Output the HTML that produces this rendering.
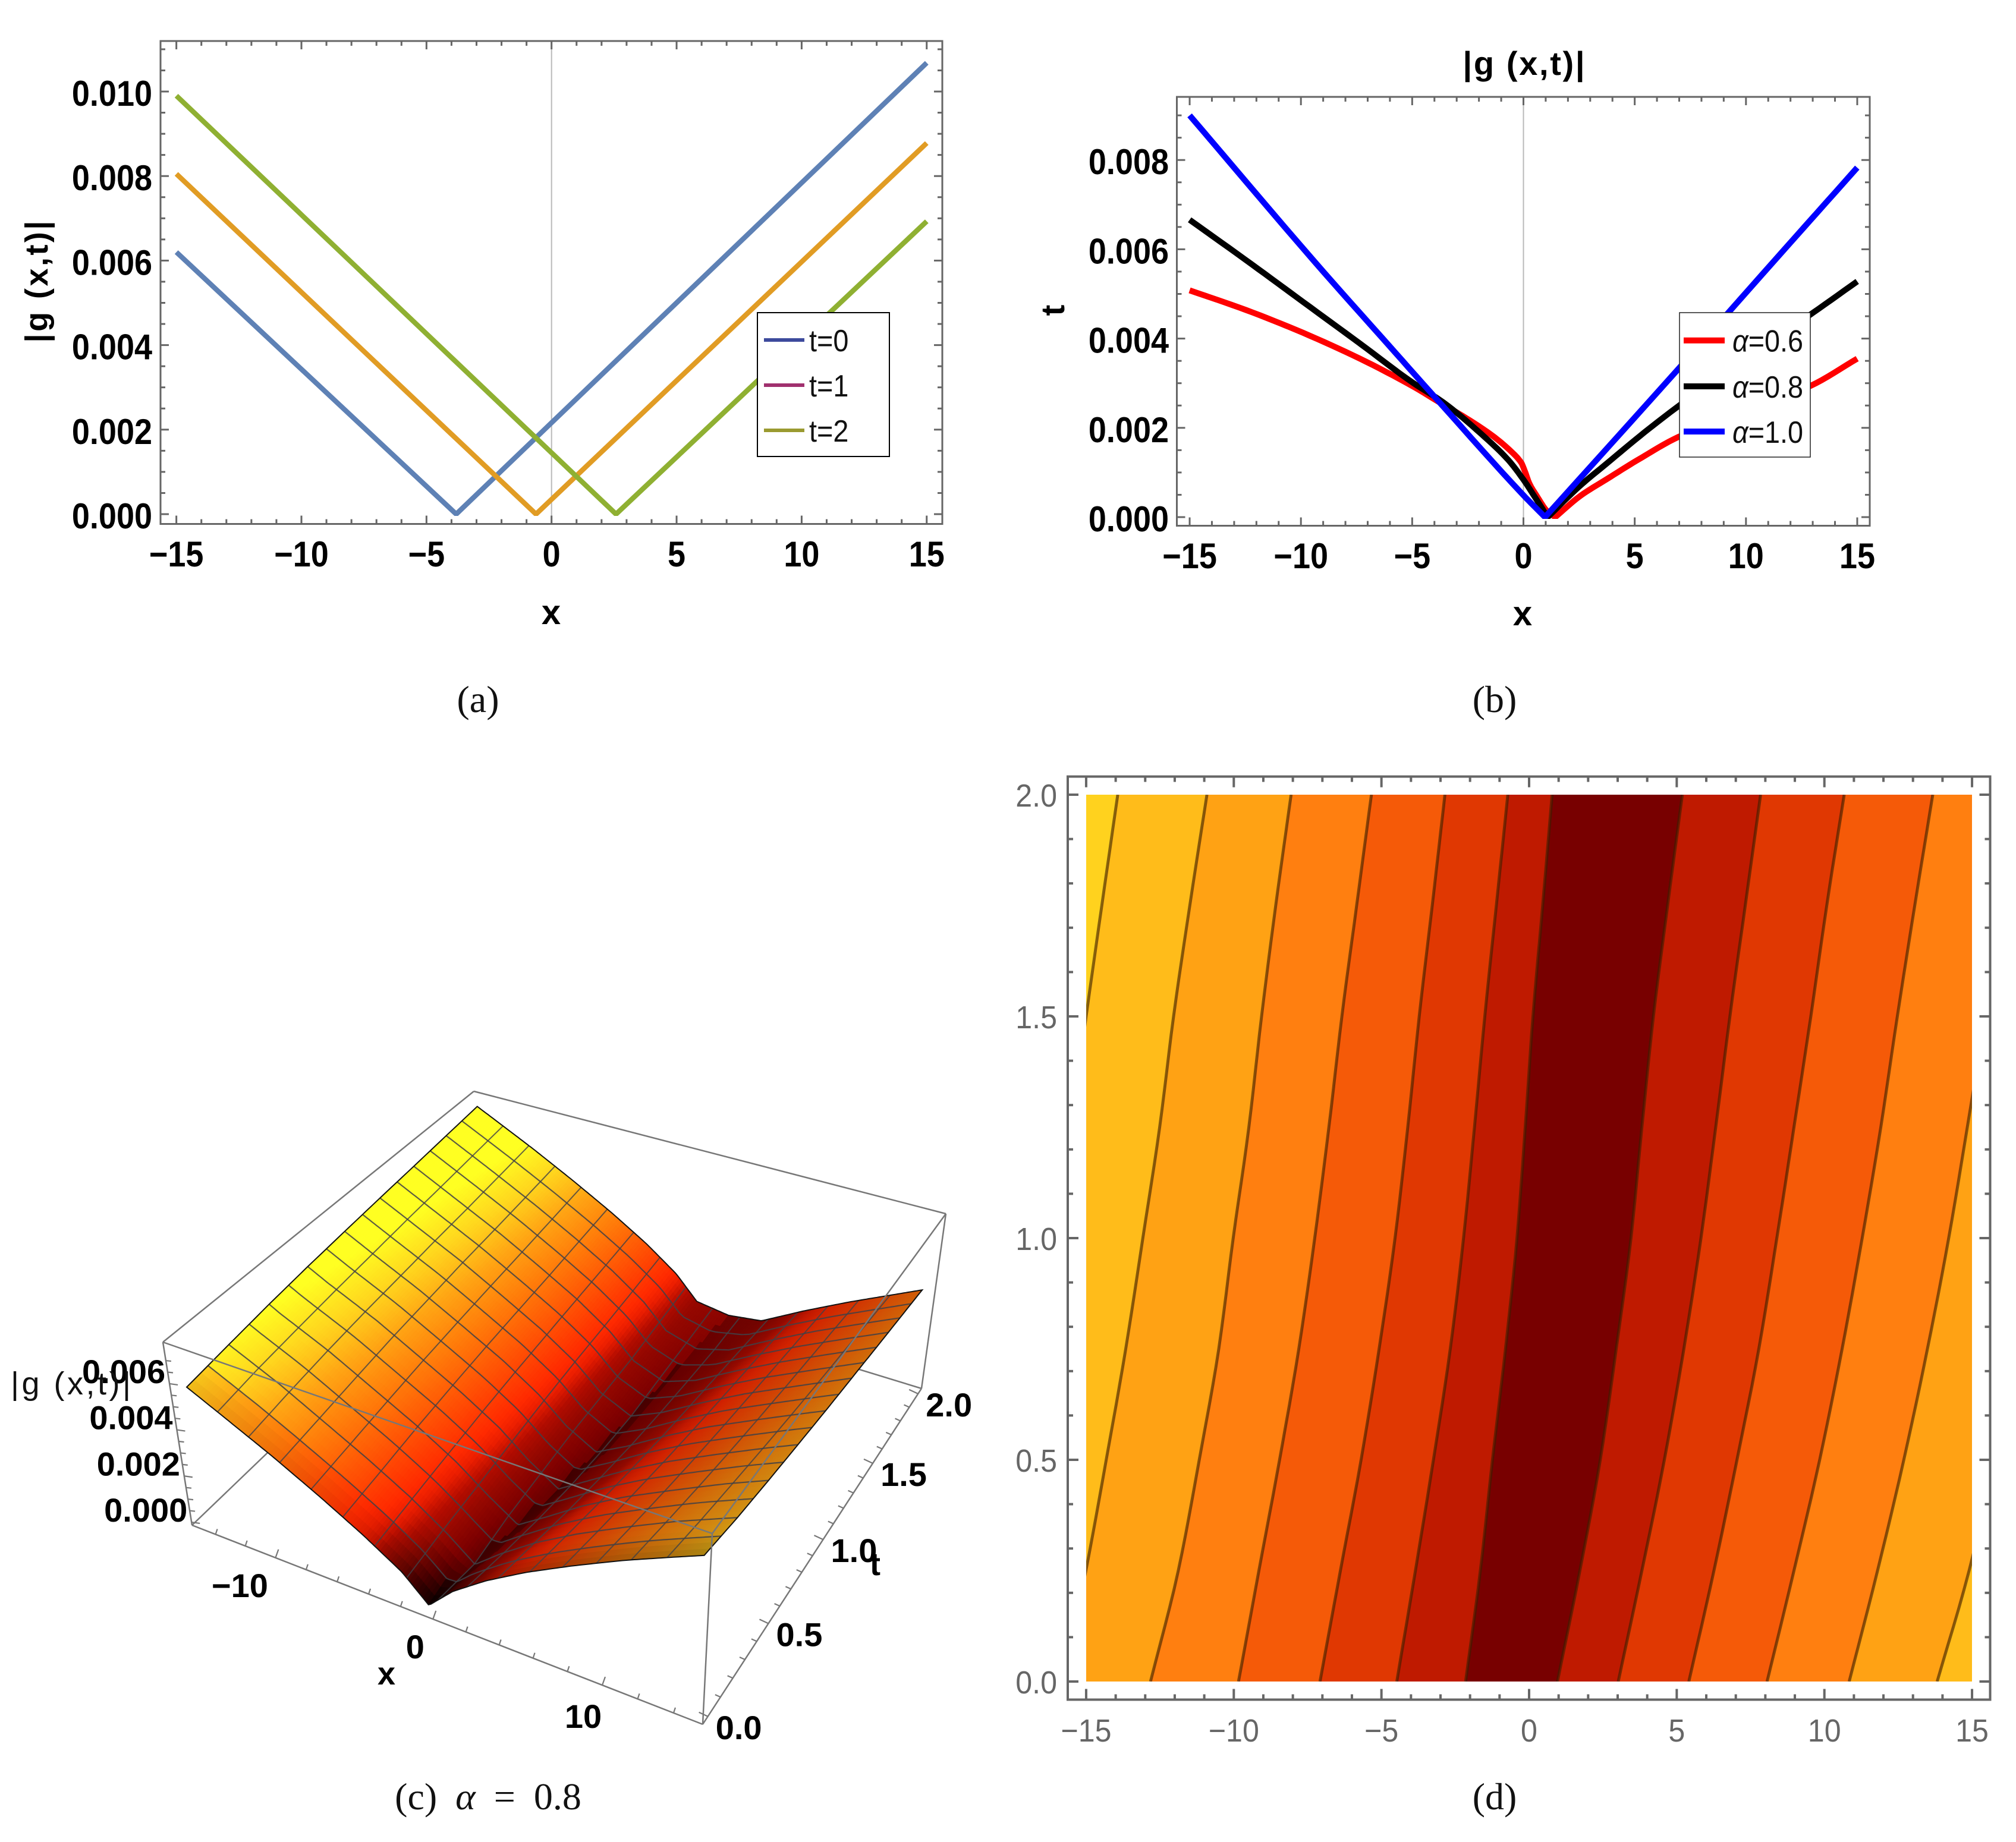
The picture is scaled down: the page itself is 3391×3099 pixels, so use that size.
<!DOCTYPE html>
<html lang="en">
<head>
<meta charset="utf-8">
<title>|g(x,t)| plots</title>
<style>
html,body{margin:0;padding:0;background:#fff;}
svg{display:block;}
text{font-family:"Liberation Sans",sans-serif;}
.cap{font-family:"Liberation Serif",serif;font-size:64px;fill:#111;text-anchor:middle;}
.bold{font-weight:bold;fill:#000;}
</style>
</head>
<body>
<svg id="fig" xmlns="http://www.w3.org/2000/svg" width="3391" height="3099" viewBox="0 0 3391 3099">
<rect x="0" y="0" width="3391" height="3099" fill="#fff"/>
<g id="panelA"></g>
<g id="panelB"></g>
<g id="panelC"></g>
<g id="panelD"></g>

<text class="bold" x="927" y="1050" font-size="58" text-anchor="middle">x</text>
<text class="bold" transform="translate(80 474) rotate(-90)" font-size="54" text-anchor="middle" textLength="205" lengthAdjust="spacing">|g (x,t)|</text>
<text class="bold" x="2563" y="126" font-size="56" text-anchor="middle" textLength="205" lengthAdjust="spacing">|g (x,t)|</text>
<text class="bold" x="2561" y="1052" font-size="58" text-anchor="middle">x</text>
<text class="bold" transform="translate(1790 522) rotate(-90)" font-size="56" text-anchor="middle">t</text>
<text x="119" y="2346" font-size="54" fill="#111" text-anchor="middle" textLength="202" lengthAdjust="spacing">|g (x,t)|</text>
<text class="bold" x="650" y="2834" font-size="54" text-anchor="middle">x</text>
<text class="bold" x="1472" y="2650" font-size="54" text-anchor="middle">t</text>

<text class="cap" x="804" y="1198">(a)</text>
<text class="cap" x="2514" y="1198">(b)</text>
<text class="cap" x="821" y="3044" style="word-spacing:15px" xml:space="preserve">(c) <tspan font-style="italic">α</tspan> = 0.8</text>
<text class="cap" x="2514" y="3044">(d)</text>
</svg>

<script>
/* ---------- Panel (a) data ---------- */
const aSeriesNames = ['t=0','t=1','t=2'];
const aX0 = [-15, -3.81, 15];
const aY0 = [0.0062, 0, 0.01068];
const aX1 = [-15, -0.62, 15];
const aY1 = [0.00805, 0, 0.00878];
const aX2 = [-15, 2.58, 15];
const aY2 = [0.0099, 0, 0.00693];
const xTickValues = [-15,-10,-5,0,5,10,15];
const xTickLabels = ['\u221215','\u221210','\u22125','0','5','10','15'];
const aYTickValues = [0,0.002,0.004,0.006,0.008,0.010];
const aYTickLabels = ['0.000','0.002','0.004','0.006','0.008','0.010'];

/* ---------- Panel (b) data ---------- */
const bSeriesNames = ['\u03b1=0.6','\u03b1=0.8','\u03b1=1.0'];
const bRedX = [-15,-12.47,-9.91,-7.35,-4.97,-3.77,-2.58,-1.38,-0.53,-0.1,0.07,0.27,0.58,1.09,1.43,2.54,3.74,5.1,6.98,12.9,15];
const bRedY = [0.00508,0.00464,0.00413,0.00355,0.00293,0.00257,0.00222,0.00182,0.00146,0.00122,0.00102,0.00075,0.00049,0.00012,0,0.00047,0.00085,0.00127,0.0018,0.00294,0.00355];
const bBlackX = [-15,-12.2,-9.9,-7.35,-4.97,-3.6,-1.89,-0.7,0,0.41,1.09,2.54,3.74,5.44,7,9,11,12.7,15];
const bBlackY = [0.00666,0.00566,0.00482,0.00389,0.00301,0.00257,0.00186,0.00129,0.00084,0.00053,0,0.0007,0.0012,0.0019,0.0025,0.00322,0.0039,0.00447,0.00528];
const bBlueX = [-15,-9.4,-6,-3.77,0,0.97,6.98,11.25,15];
const bBlueY = [0.0090,0.00573,0.00382,0.00257,0.00049,0,0.00333,0.00573,0.00783];
const bYTickValues = [0,0.002,0.004,0.006,0.008];
const bYTickLabels = ['0.000','0.002','0.004','0.006','0.008'];

/* ---------- Panel (d) data: x position of each contour at each t row ---------- */
const contourRows = [0,0.25,0.5,0.75,1,1.25,1.5,1.75,2];
const contourL1 = [-18,-17.5,-17,-16.5,-16,-15.5,-15.0,-14.47,-13.93];
const contourL2 = [-15.8,-15.01,-14.32,-13.66,-13.08,-12.51,-12.04,-11.49,-10.91];
const contourL3 = [-12.82,-11.88,-11.17,-10.51,-10.02,-9.49,-9.06,-8.58,-8.06];
const contourL4 = [-9.84,-9.15,-8.45,-7.80,-7.26,-6.78,-6.34,-5.84,-5.34];
const contourL5 = [-7.08,-6.39,-5.69,-5.08,-4.54,-4.11,-3.72,-3.28,-2.85];
const contourL6 = [-4.48,-3.85,-3.24,-2.67,-2.22,-1.85,-1.50,-1.11,-0.72];
const contourL7 = [-2.15,-1.65,-1.24,-0.80,-0.41,-0.13,0.13,0.46,0.78];
const contourR1 = [0.96,1.72,2.41,2.95,3.45,3.82,4.21,4.69,5.19];
const contourR2 = [3.02,3.82,4.58,5.24,5.82,6.32,6.80,7.32,7.84];
const contourR3 = [5.41,6.26,7.04,7.78,8.39,8.97,9.54,10.08,10.67];
const contourR4 = [8.06,8.97,9.84,10.60,11.28,11.91,12.47,13.06,13.67];
const contourR5 = [10.84,11.80,12.69,13.49,14.21,14.84,15.45,16.05,16.64];
const contourR6 = [13.82,14.90,15.77,16.5,17.2,17.8,18.5,19.1,19.8];
const contourLevelsLeft = [0.007,0.006,0.005,0.004,0.003,0.002,0.001];
const contourLevelsRight = [0.001,0.002,0.003,0.004,0.005,0.006];
const dBandColors = ['#ffd21e','#ffbc1a','#ffa214','#ff7f10','#f55a08','#e03802','#bf1a00','#780000','#bf1a00','#e03802','#f55a08','#ff7f10','#ffa214','#ffbc1a'];
const dYTickValues = [0,0.5,1,1.5,2];
const dYTickLabels = ['0.0','0.5','1.0','1.5','2.0'];

/* ---------- Panel (c) data ---------- */
const valleyX = [-0.6,0.03,0.58,1.08,1.52,1.85,2.17,2.57,2.98];
const valleyZ = [0,0.0001,0.0002,0.0002,0.0003,0.0004,0.0005,0.0006,0.0008];
const cXTickValues = [-10,0,10];
const cXTickLabels = ['\u221210','0','10'];
const cTTickValues = [0,0.5,1,1.5,2];
const cTTickLabels = ['0.0','0.5','1.0','1.5','2.0'];
const cZTickValues = [0,0.002,0.004,0.006];
const cZTickLabels = ['0.000','0.002','0.004','0.006'];

/* ---------- helpers ---------- */
const NS = 'http://www.w3.org/2000/svg';
function mk(tag, attrs, parent){
  const el = document.createElementNS(NS, tag);
  for (const k in attrs) el.setAttribute(k, attrs[k]);
  parent.appendChild(el);
  return el;
}
const FRAME = '#666';

/* monotone cubic through (xs,ys): returns dense [x,y] list, no overshoot */
function monotone(xs, ys, sub){
  const n = xs.length;
  if (n < 3) return xs.map((x,i)=>[x,ys[i]]);
  const d = [], m = new Array(n);
  for (let i=0;i<n-1;i++) d.push((ys[i+1]-ys[i])/(xs[i+1]-xs[i]));
  m[0]=d[0]; m[n-1]=d[n-2];
  for (let i=1;i<n-1;i++) m[i] = d[i-1]*d[i]<=0 ? 0 : 2*d[i-1]*d[i]/(d[i-1]+d[i]);
  const out=[];
  for (let i=0;i<n-1;i++){
    const h=xs[i+1]-xs[i];
    for (let k=0;k<sub;k++){
      const s=k/sub, s2=s*s, s3=s2*s;
      out.push([xs[i]+s*h,(2*s3-3*s2+1)*ys[i]+(s3-2*s2+s)*h*m[i]+(-2*s3+3*s2)*ys[i+1]+(s3-s2)*h*m[i+1]]);
    }
  }
  out.push([xs[n-1],ys[n-1]]);
  return out;
}
/* smooth series split at its minimum so the V-shaped kink stays sharp */
function smoothSeries(xs, ys, xS, yS){
  let k=0;
  ys.forEach((v,i)=>{ if(v<ys[k]) k=i; });
  const a=monotone(xs.slice(0,k+1),ys.slice(0,k+1),8);
  const b=monotone(xs.slice(k),ys.slice(k),8);
  return a.concat(b.slice(1)).map(p=>xS(p[0]).toFixed(1)+','+yS(p[1]).toFixed(1)).join(' ');
}

function drawBoxAxes(g, box, xS, yS, opt){
  let el = mk('rect',{x:box.l,y:box.t,width:box.r-box.l,height:box.b-box.t,fill:'none',stroke:FRAME,'stroke-width':opt.sw},g);
  
  
  for (let v=opt.xMin; v<=opt.xMax+1e-9; v+=opt.xMinorStep){
    const major = Math.abs(v/opt.xMajorStep-Math.round(v/opt.xMajorStep))<1e-6;
    const len = major?opt.majorLen:opt.minorLen;
    const x = xS(v);
    el = mk('line',{x1:x,x2:x,y1:box.b,y2:box.b-len,stroke:FRAME,'stroke-width':opt.sw},g);
    
    
    el = mk('line',{x1:x,x2:x,y1:box.t,y2:box.t+len,stroke:FRAME,'stroke-width':opt.sw},g);
    
    
  }
  const ny = Math.round((opt.yMaxTick-opt.yMin)/opt.yMinorStep);
  for (let i=0;i<=ny;i++){
    const v = opt.yMin+i*opt.yMinorStep;
    const major = Math.abs(v/opt.yMajorStep-Math.round(v/opt.yMajorStep))<1e-6;
    const len = major?opt.majorLen:opt.minorLen;
    const y = yS(v);
    el = mk('line',{x1:box.l,x2:box.l+len,y1:y,y2:y,stroke:FRAME,'stroke-width':opt.sw},g);
    
    
    el = mk('line',{x1:box.r,x2:box.r-len,y1:y,y2:y,stroke:FRAME,'stroke-width':opt.sw},g);
    
    
  }
}
function drawTickLabels(g, xVals, xLabels, yVals, yLabels, xS, yS, opt){
  xVals.forEach((v,i)=>{
    const el = mk('text',{transform:'translate('+xS(v)+' '+opt.xBase+') scale('+opt.sx+',1)','text-anchor':'middle','font-size':opt.size,'font-weight':opt.weight,fill:opt.fill},g);
    el.textContent = xLabels[i];
    
    
  });
  yVals.forEach((v,i)=>{
    const el = mk('text',{transform:'translate('+opt.yRight+' '+(yS(v)+opt.yShift)+') scale('+opt.sx+',1)','text-anchor':'end','font-size':opt.size,'font-weight':opt.weight,fill:opt.fill},g);
    el.textContent = yLabels[i];
    
    
  });
}
function polyPts(xs, ys, xS, yS){
  return xs.map((x,i)=>xS(x).toFixed(1)+','+yS(ys[i]).toFixed(1)).join(' ');
}

/* ---------- Panel (a) ---------- */
(function(){
  const g = document.getElementById('panelA');
  const box = {l:270,r:1585,t:69,b:881.5};
  const xS = v => 927.7 + v*42.07;
  const yS = v => 865 - v*71100;
  const defs = mk('defs',{},g);
  const cp = mk('clipPath',{id:'aClip'},defs);
  mk('rect',{x:box.l,y:box.t,width:box.r-box.l,height:868-box.t},cp);
  let el = mk('line',{x1:xS(0),x2:xS(0),y1:box.t,y2:box.b,stroke:'#b9b9b9','stroke-width':2},g);
  
  
  drawBoxAxes(g,box,xS,yS,{sw:3,majorLen:14,minorLen:8,xMin:-15,xMax:15,xMinorStep:1,xMajorStep:5,yMin:0,yMaxTick:0.011,yMinorStep:0.0005,yMajorStep:0.002});
  drawTickLabels(g,xTickValues,xTickLabels,aYTickValues,aYTickLabels,xS,yS,{xBase:953,yRight:256,yShift:24,size:60,sx:0.9,weight:'bold',fill:'#000'});
  const plot = mk('g',{'clip-path':'url(#aClip)'},g);
  
  
  el = mk('polyline',{points:polyPts(aX0,aY0,xS,yS),fill:'none',stroke:'#5e81b5','stroke-width':8.5,'stroke-linejoin':'miter'},plot);
  
  
  el = mk('polyline',{points:polyPts(aX1,aY1,xS,yS),fill:'none',stroke:'#e19c24','stroke-width':8.5,'stroke-linejoin':'miter'},plot);
  
  
  el = mk('polyline',{points:polyPts(aX2,aY2,xS,yS),fill:'none',stroke:'#8fb032','stroke-width':8.5,'stroke-linejoin':'miter'},plot);
  
  
  el = mk('rect',{x:1274,y:526,width:222,height:242,fill:'#fff',stroke:'#000','stroke-width':2},g);
  
  
  const legendColors = ['#3d4a9c','#a0306e','#9a9a30'];
  const legendYs = [572,648,724];
  aSeriesNames.forEach((n,i)=>{
    let e = mk('line',{x1:1285,x2:1353,y1:legendYs[i],y2:legendYs[i],stroke:legendColors[i],'stroke-width':6},g);
    
    
    e = mk('text',{transform:'translate(1361 '+(legendYs[i]+19)+') scale(0.9,1)','font-size':52,fill:'#111'},g);
    e.textContent = n;
    
    
  });
})();

/* ---------- Panel (b) ---------- */
(function(){
  const g = document.getElementById('panelB');
  const box = {l:1979.5,r:3145,t:163,b:884.5};
  const xS = v => 2562.5 + v*37.43;
  const yS = v => 870 - v*75100;
  const defs = mk('defs',{},g);
  const cp = mk('clipPath',{id:'bClip'},defs);
  mk('rect',{x:box.l,y:box.t,width:box.r-box.l,height:873-box.t},cp);
  let el = mk('line',{x1:xS(0),x2:xS(0),y1:box.t,y2:box.b,stroke:'#b9b9b9','stroke-width':2},g);
  
  
  drawBoxAxes(g,box,xS,yS,{sw:3,majorLen:14,minorLen:8,xMin:-15,xMax:15,xMinorStep:1,xMajorStep:5,yMin:0,yMaxTick:0.009,yMinorStep:0.0005,yMajorStep:0.002});
  drawTickLabels(g,xTickValues,xTickLabels,bYTickValues,bYTickLabels,xS,yS,{xBase:956,yRight:1966,yShift:24,size:60,sx:0.9,weight:'bold',fill:'#000'});
  const plot = mk('g',{'clip-path':'url(#bClip)'},g);
  
  
  el = mk('polyline',{points:smoothSeries(bRedX,bRedY,xS,yS),fill:'none',stroke:'#ff0000','stroke-width':10,'stroke-linejoin':'round'},plot);
  
  
  el = mk('polyline',{points:smoothSeries(bBlackX,bBlackY,xS,yS),fill:'none',stroke:'#000','stroke-width':10,'stroke-linejoin':'round'},plot);
  
  
  el = mk('polyline',{points:smoothSeries(bBlueX,bBlueY,xS,yS),fill:'none',stroke:'#0000ff','stroke-width':10,'stroke-linejoin':'round'},plot);
  
  
  el = mk('rect',{x:2825,y:526,width:220,height:243,fill:'#fff',stroke:'#222','stroke-width':1.5},g);
  
  
  const legendColors = ['#ff0000','#000000','#0000ff'];
  const legendYs = [572.7,650,726];
  bSeriesNames.forEach((n,i)=>{
    let e = mk('line',{x1:2832,x2:2901,y1:legendYs[i],y2:legendYs[i],stroke:legendColors[i],'stroke-width':10},g);
    
    
    e = mk('text',{transform:'translate(2914 '+(legendYs[i]+19)+') scale(0.9,1)','font-size':52,fill:'#111'},g);
    const a = mk('tspan',{'font-style':'italic'},e);
    a.textContent = n.charAt(0);
    const r = mk('tspan',{},e);
    r.textContent = n.slice(1);
    
    
  });
})();

/* ---------- Panel (d) ---------- */
const allContours = [contourL1,contourL2,contourL3,contourL4,contourL5,contourL6,contourL7,contourR1,contourR2,contourR3,contourR4,contourR5,contourR6];
(function(){
  const g = document.getElementById('panelD');
  const box = {l:1796,r:3347.5,t:1306.5,b:2859.5};
  const xS = v => 2572 + v*49.67;
  const yS = v => 2829 - v*746;
  const defs = mk('defs',{},g);
  const cp = mk('clipPath',{id:'dClip'},defs);
  mk('rect',{x:xS(-15),y:yS(2),width:xS(15)-xS(-15),height:yS(0)-yS(2)},cp);
  const plot = mk('g',{'clip-path':'url(#dClip)'},g);
  
  
  let el = mk('rect',{x:xS(-15),y:yS(2),width:xS(15)-xS(-15),height:yS(0)-yS(2),fill:dBandColors[0]},plot);
  
  
  const curve = c => monotone(contourRows,c,6).map(p=>xS(p[1]).toFixed(1)+','+yS(p[0]).toFixed(1));
  allContours.forEach((c,i)=>{
    const pts = curve(c);
    pts.push(xS(30)+','+yS(2));
    pts.push(xS(30)+','+yS(0));
    const band = mk('polygon',{points:pts.join(' '),fill:dBandColors[i+1]},plot);
    
    
  });
  allContours.forEach(c=>{
    const line = mk('polyline',{points:curve(c).join(' '),fill:'none',stroke:'rgba(60,30,0,0.62)','stroke-width':5,'stroke-linejoin':'round'},plot);
    
    
  });
  drawBoxAxes(g,box,xS,yS,{sw:4,majorLen:18,minorLen:9,xMin:-15,xMax:15,xMinorStep:1,xMajorStep:5,yMin:0,yMaxTick:2,yMinorStep:0.1,yMajorStep:0.5});
  drawTickLabels(g,xTickValues,xTickLabels,dYTickValues,dYTickLabels,xS,yS,{xBase:2930,yRight:1778,yShift:20,size:54,sx:0.93,weight:'normal',fill:'#666'});
})();

/* ---------- Panel (c) ---------- */
function levelAtRow(x, j){
  const xs = [], zs = [];
  for (let i=0;i<7;i++){ xs.push(allContours[i][j]); zs.push(contourLevelsLeft[i]); }
  xs.push(valleyX[j]); zs.push(valleyZ[j]);
  for (let i=0;i<6;i++){ xs.push(allContours[i+7][j]); zs.push(contourLevelsRight[i]); }
  let k = 0;
  while (k < xs.length-2 && x > xs[k+1]) k++;
  const f = (x-xs[k])/(xs[k+1]-xs[k]);
  return Math.max(0, zs[k]+f*(zs[k+1]-zs[k]));
}
function surfaceZ(x, t){
  let j = 0;
  while (j < contourRows.length-2 && t > contourRows[j+1]) j++;
  const f = (t-contourRows[j])/(contourRows[j+1]-contourRows[j]);
  return levelAtRow(x,j)*(1-f)+levelAtRow(x,j+1)*f;
}
function homography(p){
  const [p0,p1,p2,p3] = p;
  const dx1=p1[0]-p2[0], dx2=p3[0]-p2[0], sx=p0[0]-p1[0]+p2[0]-p3[0];
  const dy1=p1[1]-p2[1], dy2=p3[1]-p2[1], sy=p0[1]-p1[1]+p2[1]-p3[1];
  const det=dx1*dy2-dx2*dy1;
  const g=(sx*dy2-dx2*sy)/det, h=(dx1*sy-sx*dy1)/det;
  const a=p1[0]-p0[0]+g*p1[0], b=p3[0]-p0[0]+h*p3[0], c=p0[0];
  const d=p1[1]-p0[1]+g*p1[1], e=p3[1]-p0[1]+h*p3[1], f=p0[1];
  return (u,v)=>{ const w=g*u+h*v+1; return [(a*u+b*v+c)/w,(d*u+e*v+f)/w]; };
}
(function(){
  const g = document.getElementById('panelC');
  const topFace = homography([[274,2258],[1198,2580],[1591,2042],[797,1836]]);
  const botFace = homography([[323,2566],[1182,2901],[1550,2336],[801,2107]]);
  const xMinBox=-15.6, xMaxBox=15.6, tMinBox=-0.04, tMaxBox=2.04, zMinBox=-0.00013, zMaxBox=0.0078;
  const project = (x,t,z)=>{
    const u=(x-xMinBox)/(xMaxBox-xMinBox), v=(t-tMinBox)/(tMaxBox-tMinBox), w=(z-zMinBox)/(zMaxBox-zMinBox);
    const a=botFace(u,v), b=topFace(u,v);
    return [a[0]+(b[0]-a[0])*w, a[1]+(b[1]-a[1])*w];
  };
  const c = (sx,st,sz)=>project(sx?xMaxBox:xMinBox, st?tMaxBox:tMinBox, sz?zMaxBox:zMinBox);
  const edge = (a,b,name)=>{
    const e = mk('line',{x1:a[0],y1:a[1],x2:b[0],y2:b[1],stroke:'#777','stroke-width':2.5},g);
    
    
  };
  edge(c(0,1,1),c(0,0,1),'box-edge-back');
  edge(c(0,1,1),c(1,1,1),'box-edge-back');
  edge(c(0,1,0),c(0,0,0),'box-edge-back');
  edge(c(0,1,0),c(1,1,0),'box-edge-back');
  edge(c(1,1,0),c(1,1,1),'box-edge-back');
  edge(c(0,0,0),c(0,0,1),'z-axis-line');
  edge(c(0,0,0),c(1,0,0),'x-axis-line');
  edge(c(1,0,0),c(1,1,0),'t-axis-line');
  const colorStops = [[0,[85,0,0]],[0.0005,[125,0,0]],[0.001,[150,8,0]],[0.0014,[178,12,0]],[0.0018,[235,30,0]],[0.0021,[255,42,0]],[0.003,[255,85,5]],[0.0038,[255,125,10]],[0.0046,[255,165,20]],[0.0054,[255,215,30]],[0.0062,[255,255,34]]];
  const colormap = z=>{
    let i=0;
    while(i<colorStops.length-2 && z>colorStops[i+1][0]) i++;
    const f=Math.min(1,Math.max(0,(z-colorStops[i][0])/(colorStops[i+1][0]-colorStops[i][0])));
    return colorStops[i][1].map((v,k)=>v+(colorStops[i+1][1][k]-v)*f);
  };
  const clamp01 = v=>Math.min(1,Math.max(0,v));
  const surf = mk('g',{},g);
  
  
  const nx=192, nt=48;
  const X=i=>-15+30*i/nx, T=j=>2*j/nt;
  for (let j=nt-1;j>=0;j--){
    for (let i=0;i<nx;i++){
      const x0=X(i),x1=X(i+1),t0=T(j),t1=T(j+1);
      const z00=surfaceZ(x0,t0),z10=surfaceZ(x1,t0),z11=surfaceZ(x1,t1),z01=surfaceZ(x0,t1);
      const zm=(z00+z10+z11+z01)/4;
      const slope=((z10+z11)-(z00+z01))/2/(x1-x0);
      const tm=(t0+t1)/2;
      let zEff=zm;
      let shade=1;
      if (slope>0){
        zEff=zm*0.8;
        shade=0.82;
        if (zm<0.0006) shade=0.62;
        shade*=0.8+0.2*clamp01(tm/0.16);
      } else {
        if (tm<0.12) zEff=zm*0.9;
        shade=0.93+0.07*clamp01(tm/0.12);
      }
      shade*=1-0.8*(1-clamp01(tm/0.24))*(1-clamp01(zm/0.0017));
      const rgb=colormap(zEff).map(v=>Math.round(v*shade));
      const col='rgb('+rgb.join(',')+')';
      const pts=[project(x0,t0,z00),project(x1,t0,z10),project(x1,t1,z11),project(x0,t1,z01)].map(p=>p[0].toFixed(1)+','+p[1].toFixed(1)).join(' ');
      const patch=mk('polygon',{points:pts,fill:col,stroke:col,'stroke-width':1},surf);
      
      
    }
  }
  const linePts=(fn,n)=>{
    const a=[];
    for(let k=0;k<=n;k++){const p=fn(k);a.push(p[0].toFixed(1)+','+p[1].toFixed(1));}
    return a.join(' ');
  };
  for (let m=1;m<16;m++){
    const tv=2*m/16;
    let e=mk('polyline',{points:linePts(k=>project(X(k),tv,surfaceZ(X(k),tv)),nx),fill:'none',stroke:'rgba(65,65,70,0.85)','stroke-width':2.2},g);
    
    
    const xv=-15+30*m/16;
    e=mk('polyline',{points:linePts(k=>project(xv,T(k),surfaceZ(xv,T(k))),nt),fill:'none',stroke:'rgba(65,65,70,0.8)','stroke-width':2},g);
    
    
  }
  const outline=[];
  for(let k=0;k<=nx;k++){const p=project(X(k),0,surfaceZ(X(k),0));outline.push(p[0].toFixed(1)+','+p[1].toFixed(1));}
  for(let k=1;k<=nt;k++){const p=project(15,T(k),surfaceZ(15,T(k)));outline.push(p[0].toFixed(1)+','+p[1].toFixed(1));}
  for(let k=nx-1;k>=0;k--){const p=project(X(k),2,surfaceZ(X(k),2));outline.push(p[0].toFixed(1)+','+p[1].toFixed(1));}
  for(let k=nt-1;k>=0;k--){const p=project(-15,T(k),surfaceZ(-15,T(k)));outline.push(p[0].toFixed(1)+','+p[1].toFixed(1));}
  const ol=mk('polygon',{points:outline.join(' '),fill:'none',stroke:'#111','stroke-width':2},g);
  
  
  edge(c(0,0,1),c(1,0,1),'box-edge-front');
  edge(c(1,0,1),c(1,1,1),'box-edge-front');
  edge(c(1,0,0),c(1,0,1),'box-edge-front');

  /* ticks */
  const tick=(p,dx,dy,name)=>{
    const e=mk('line',{x1:p[0],y1:p[1],x2:p[0]+dx,y2:p[1]+dy,stroke:'#777','stroke-width':2.2},g);
    
    
  };
  for(let v=-14;v<=14;v+=2){
    const major=v%10===0;
    tick(project(v,tMinBox,zMinBox),major?5:3,major?-14:-9,'x-tick');
  }
  for(let i=0;i<=20;i++){
    const v=i*0.1;
    const major=i%5===0;
    tick(project(xMaxBox,v,zMinBox),major?-15:-9,major?-7:-4,'t-tick');
  }
  for(let i=0;i<=14;i++){
    const v=i*0.0005;
    const major=i%4===0;
    tick(project(xMinBox,tMinBox,v),major?14:9,major?2:1,'z-tick');
  }
  const label=(x,y,s,name)=>{
    const e=mk('text',{x:x,y:y,'text-anchor':'middle','font-size':56,'font-weight':'bold',fill:'#000'},g);
    e.textContent=s;
    
    
  };
  const xLabelOffsets=[[-60,66],[-30,66],[-32,72]];
  cXTickValues.forEach((v,i)=>{
    const p=project(v,tMinBox,zMinBox);
    label(p[0]+xLabelOffsets[i][0],p[1]+xLabelOffsets[i][1],cXTickLabels[i],'x-tick-label');
  });
  cTTickValues.forEach((v,i)=>{
    const p=project(xMaxBox,v,zMinBox);
    label(p[0]+52,p[1]+38,cTTickLabels[i],'t-tick-label');
  });
  cZTickValues.forEach((v,i)=>{
    const p=project(xMinBox,tMinBox,v);
    label(p[0]-77,p[1]-1,cZTickLabels[i],'z-tick-label');
  });
})();
</script>
</body>
</html>
